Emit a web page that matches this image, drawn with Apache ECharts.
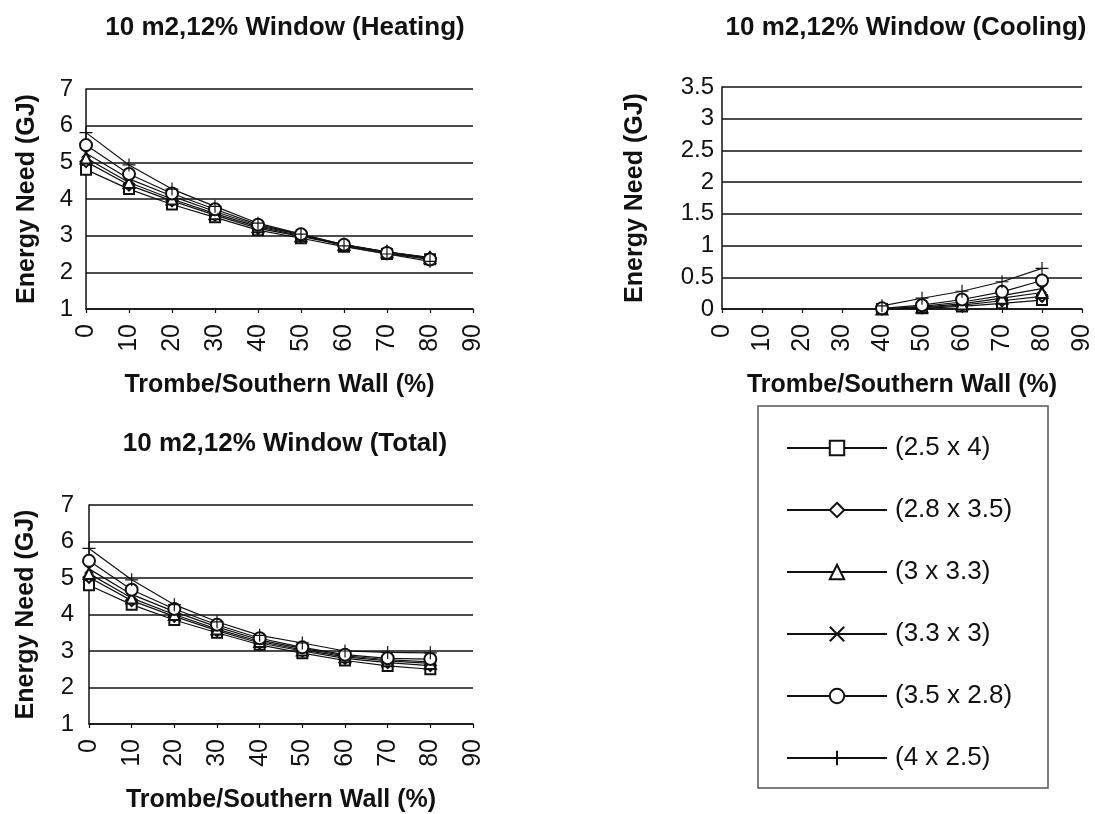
<!DOCTYPE html>
<html>
<head>
<meta charset="utf-8">
<script src="https://cdn.jsdelivr.net/npm/echarts@6/dist/echarts.min.js"></script>
<style>
  html, body { margin: 0; padding: 0; background: #fff; }
  #chart { width: 1095px; height: 814px; }
</style>
</head>
<body>
<div id="chart"></div>
<script>
// Trombe wall share (%)
const xValues = [0, 10, 20, 30, 40, 50, 60, 70, 80];
const seriesNames = ['(2.5 x 4)', '(2.8 x 3.5)', '(3 x 3.3)', '(3.3 x 3)', '(3.5 x 2.8)', '(4 x 2.5)'];

// heating need (GJ), one array per room shape
const heatSq    = [4.80, 4.27, 3.85, 3.50, 3.15, 2.93, 2.70, 2.50, 2.36];
const heatDia   = [5.02, 4.38, 3.95, 3.56, 3.20, 2.98, 2.74, 2.55, 2.40];
const heatTri   = [5.12, 4.45, 4.00, 3.60, 3.24, 3.00, 2.76, 2.56, 2.40];
const heatX     = [5.25, 4.55, 4.08, 3.66, 3.27, 3.03, 2.76, 2.55, 2.38];
const heatCirc  = [5.47, 4.68, 4.15, 3.72, 3.30, 3.04, 2.75, 2.53, 2.35];
const heatPlus  = [5.81, 4.93, 4.27, 3.80, 3.34, 3.04, 2.72, 2.50, 2.30];

// cooling need (GJ)
const coolSq    = [null, null, null, null, 0.00, 0.01, 0.04, 0.09, 0.14];
const coolDia   = [null, null, null, null, 0.00, 0.02, 0.06, 0.13, 0.20];
const coolTri   = [null, null, null, null, 0.00, 0.03, 0.08, 0.17, 0.26];
const coolX     = [null, null, null, null, 0.00, 0.04, 0.11, 0.21, 0.32];
const coolCirc  = [null, null, null, null, 0.01, 0.06, 0.15, 0.27, 0.45];
const coolPlus  = [null, null, null, null, 0.05, 0.17, 0.28, 0.43, 0.64];

// total need (GJ)
const totSq     = [4.80, 4.27, 3.85, 3.50, 3.17, 2.94, 2.74, 2.59, 2.50];
const totDia    = [5.02, 4.38, 3.95, 3.56, 3.22, 3.00, 2.80, 2.68, 2.60];
const totTri    = [5.12, 4.45, 4.00, 3.60, 3.26, 3.03, 2.84, 2.73, 2.66];
const totX      = [5.25, 4.55, 4.08, 3.66, 3.30, 3.07, 2.87, 2.76, 2.70];
const totCirc   = [5.47, 4.68, 4.15, 3.72, 3.35, 3.10, 2.90, 2.80, 2.78];
const totPlus   = [5.81, 4.95, 4.27, 3.80, 3.43, 3.22, 3.00, 2.96, 2.95];

const heating = [heatSq, heatDia, heatTri, heatX, heatCirc, heatPlus];
const cooling = [coolSq, coolDia, coolTri, coolX, coolCirc, coolPlus];
const total   = [totSq, totDia, totTri, totX, totCirc, totPlus];

const symbols = ['emptyRect', 'emptyDiamond', 'emptyTriangle',
  'path://M0,0L10,10M10,0L0,10', 'emptyCircle', 'path://M5,0L5,10M0,5L10,5'];
const symbolSizes = [10, 11, 11, 9, 12, 13];

const INK = '#111';
const FONT = '"Liberation Sans", Arial, sans-serif';

function xAxisFor(gridIndex) {
  return {
    gridIndex: gridIndex, type: 'value', min: 0, max: 90, interval: 10,
    name: 'Trombe/Southern Wall (%)', nameLocation: 'middle', nameGap: 64,
    nameTextStyle: { fontFamily: FONT, fontWeight: 'bold', fontSize: 25, color: INK },
    axisLine: { lineStyle: { color: INK, width: 1.5 } },
    axisTick: { show: true, length: 4, lineStyle: { color: INK, width: 1.2 } },
    axisLabel: { rotate: 90, margin: 15, fontFamily: FONT, fontSize: 25, color: INK },
    splitLine: { show: false }
  };
}

function yAxisFor(gridIndex, min, max, step, gap, labelMargin) {
  return {
    gridIndex: gridIndex, type: 'value', min: min, max: max, interval: step,
    name: 'Energy Need (GJ)', nameLocation: 'middle', nameGap: gap,
    nameTextStyle: { fontFamily: FONT, fontWeight: 'bold', fontSize: 25, color: INK },
    axisLine: { show: true, lineStyle: { color: INK, width: 1.5 } },
    axisTick: { show: false },
    axisLabel: { margin: labelMargin, fontFamily: FONT, fontSize: 24, color: INK },
    splitLine: { show: true, lineStyle: { color: INK, width: 1.5 } }
  };
}

function buildSeries(sets, axisIndex) {
  return sets.map(function (vals, i) {
    return {
      name: seriesNames[i], type: 'line',
      xAxisIndex: axisIndex, yAxisIndex: axisIndex,
      data: xValues.map(function (x, k) { return [x, vals[k]]; }),
      symbol: symbols[i], symbolSize: symbolSizes[i],
      showAllSymbol: true, connectNulls: false,
      lineStyle: { color: INK, width: 1.2 },
      itemStyle: { color: INK, borderColor: INK, borderWidth: 1.2 },
      emphasis: { disabled: true },
      animation: false
    };
  });
}

const chart = echarts.init(document.getElementById('chart'));
chart.setOption({
  backgroundColor: '#fff',
  animation: false,
  title: [
    { text: '10 m2,12% Window (Heating)', left: 280, top: 10, textAlign: 'center',
      textStyle: { fontFamily: FONT, fontWeight: 'bold', fontSize: 26, color: INK } },
    { text: '10 m2,12% Window (Cooling)', left: 901, top: 10, textAlign: 'center',
      textStyle: { fontFamily: FONT, fontWeight: 'bold', fontSize: 26, color: INK } },
    { text: '10 m2,12% Window (Total)', left: 280, top: 426, textAlign: 'center',
      textStyle: { fontFamily: FONT, fontWeight: 'bold', fontSize: 26, color: INK } }
  ],
  grid: [
    { left: 86, top: 89, width: 387, height: 220 },
    { left: 722, top: 87, width: 360, height: 222 },
    { left: 89, top: 505, width: 384, height: 222 }
  ],
  xAxis: [xAxisFor(0), xAxisFor(1), xAxisFor(2)],
  yAxis: [
    yAxisFor(0, 1, 7, 1, 46, 13),
    yAxisFor(1, 0, 3.5, 0.5, 74, 8),
    yAxisFor(2, 1, 7, 1, 50, 15)
  ],
  legend: {
    data: seriesNames, orient: 'vertical', left: 781, top: 430,
    itemWidth: 100, itemHeight: 18, itemGap: 36,
    textStyle: { fontFamily: FONT, fontSize: 26, color: INK, lineHeight: 26, padding: [0, 0, 0, 3] },
    selectedMode: false
  },
  graphic: [
    { type: 'rect', shape: { x: 758, y: 406, width: 290, height: 382 },
      style: { fill: 'none', stroke: '#555', lineWidth: 1.5 }, silent: true }
  ],
  series: [].concat(buildSeries(heating, 0), buildSeries(cooling, 1), buildSeries(total, 2))
});
</script>
</body>
</html>
